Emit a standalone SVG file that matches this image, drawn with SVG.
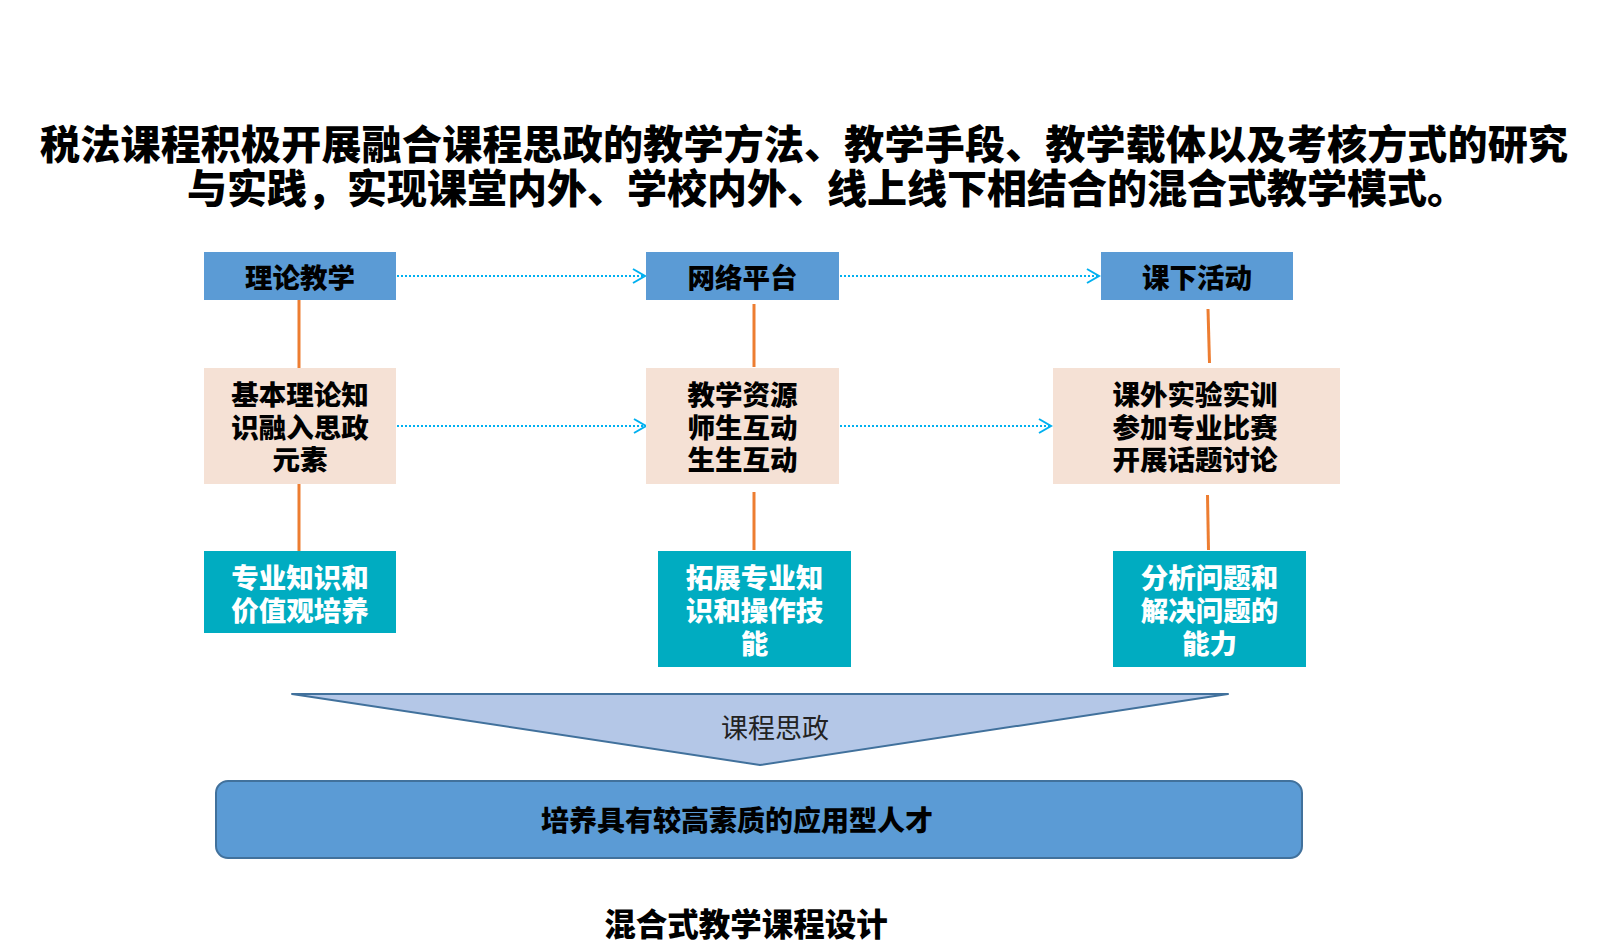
<svg xmlns="http://www.w3.org/2000/svg" width="1609" height="950" viewBox="0 0 1609 950">
<style>
text{font-family:'Noto Sans CJK SC','Noto Sans',sans-serif;}
.t{font-size:27.5px;font-weight:900;text-anchor:middle;fill:#000;}
.w{fill:#fff;}
.blue{fill:#5B9BD5;}
.peach{fill:#F5E1D5;}
.teal{fill:#00ACC1;}
.dot{stroke:#00B0F0;stroke-width:2;stroke-dasharray:2 2;fill:none;}
.or{stroke:#ED7D31;stroke-width:3;fill:none;}
</style>
<defs>
<marker id="chev" markerUnits="userSpaceOnUse" markerWidth="16" markerHeight="18" refX="13" refY="8" orient="auto">
<path d="M1,1 L13,8 L1,15" fill="none" stroke="#00B0F0" stroke-width="2"/>
</marker>
</defs>
<rect width="1609" height="950" fill="#fff"/>
<g id="title">
<text x="40" y="159" font-size="40" font-weight="900" textLength="1528" lengthAdjust="spacing">税法课程积极开展融合课程思政的教学方法、教学手段、教学载体以及考核方式的研究</text>
<text x="187" y="203" font-size="40" font-weight="900">与实践，实现课堂内外、学校内外、线上线下相结合的混合式教学模式。</text>
</g>
<g id="connectors">
<line class="dot" x1="397" y1="276" x2="645" y2="276" marker-end="url(#chev)"/>
<line class="dot" x1="840" y1="276" x2="1099" y2="276" marker-end="url(#chev)"/>
<line class="dot" x1="397" y1="426" x2="646" y2="426" marker-end="url(#chev)"/>
<line class="dot" x1="840" y1="426" x2="1051" y2="426" marker-end="url(#chev)"/>
<line class="or" x1="299" y1="300" x2="299" y2="368"/>
<line class="or" x1="299" y1="484" x2="299" y2="551"/>
<line class="or" x1="754" y1="304" x2="754" y2="367"/>
<line class="or" x1="754" y1="492" x2="754" y2="550"/>
<line class="or" x1="1208" y1="309" x2="1209.5" y2="363"/>
<line class="or" x1="1207.5" y1="495" x2="1208.5" y2="550"/>
</g>
<g id="n1">
<rect class="blue" x="204" y="252" width="192" height="48"/>
<text class="t" x="300" y="287.5">理论教学</text>
</g>
<g id="n2">
<rect class="blue" x="646" y="252" width="193" height="48"/>
<text class="t" x="742.5" y="287.5">网络平台</text>
</g>
<g id="n3">
<rect class="blue" x="1101" y="252" width="192" height="48"/>
<text class="t" x="1197" y="287.5">课下活动</text>
</g>
<g id="n4">
<rect class="peach" x="204" y="368" width="192" height="116"/>
<text class="t" x="300" y="405">基本理论知</text>
<text class="t" x="300" y="437.5">识融入思政</text>
<text class="t" x="300" y="470">元素</text>
</g>
<g id="n5">
<rect class="peach" x="646" y="368" width="193" height="116"/>
<text class="t" x="742.5" y="405">教学资源</text>
<text class="t" x="742.5" y="437.5">师生互动</text>
<text class="t" x="742.5" y="470">生生互动</text>
</g>
<g id="n6">
<rect class="peach" x="1053" y="368" width="287" height="116"/>
<text class="t" x="1195" y="405">课外实验实训</text>
<text class="t" x="1195" y="437.5">参加专业比赛</text>
<text class="t" x="1195" y="470">开展话题讨论</text>
</g>
<g id="n7">
<rect class="teal" x="204" y="551" width="192" height="82"/>
<text class="t w" x="300" y="588">专业知识和</text>
<text class="t w" x="300" y="621">价值观培养</text>
</g>
<g id="n8">
<rect class="teal" x="658" y="551" width="193" height="116"/>
<text class="t w" x="754.5" y="588">拓展专业知</text>
<text class="t w" x="754.5" y="621">识和操作技</text>
<text class="t w" x="754.5" y="654">能</text>
</g>
<g id="n9">
<rect class="teal" x="1113" y="551" width="193" height="116"/>
<text class="t w" x="1209.5" y="588">分析问题和</text>
<text class="t w" x="1209.5" y="621">解决问题的</text>
<text class="t w" x="1209.5" y="654">能力</text>
</g>
<g id="n10">
<polygon points="292,694 1228,694 760,765" fill="#B4C7E7" stroke="#41719C" stroke-width="2" stroke-linejoin="round"/>
<text x="775" y="738" font-size="27" text-anchor="middle" fill="#222">课程思政</text>
</g>
<g id="n11">
<rect x="216" y="781" width="1086" height="77" rx="12" ry="12" fill="#5B9BD5" stroke="#41719C" stroke-width="2"/>
<text class="t" x="737" y="830.5" style="font-size:28px">培养具有较高素质的应用型人才</text>
</g>
<g id="caption">
<text x="746" y="936" font-size="31.5" font-weight="900" text-anchor="middle">混合式教学课程设计</text>
</g>
</svg>
